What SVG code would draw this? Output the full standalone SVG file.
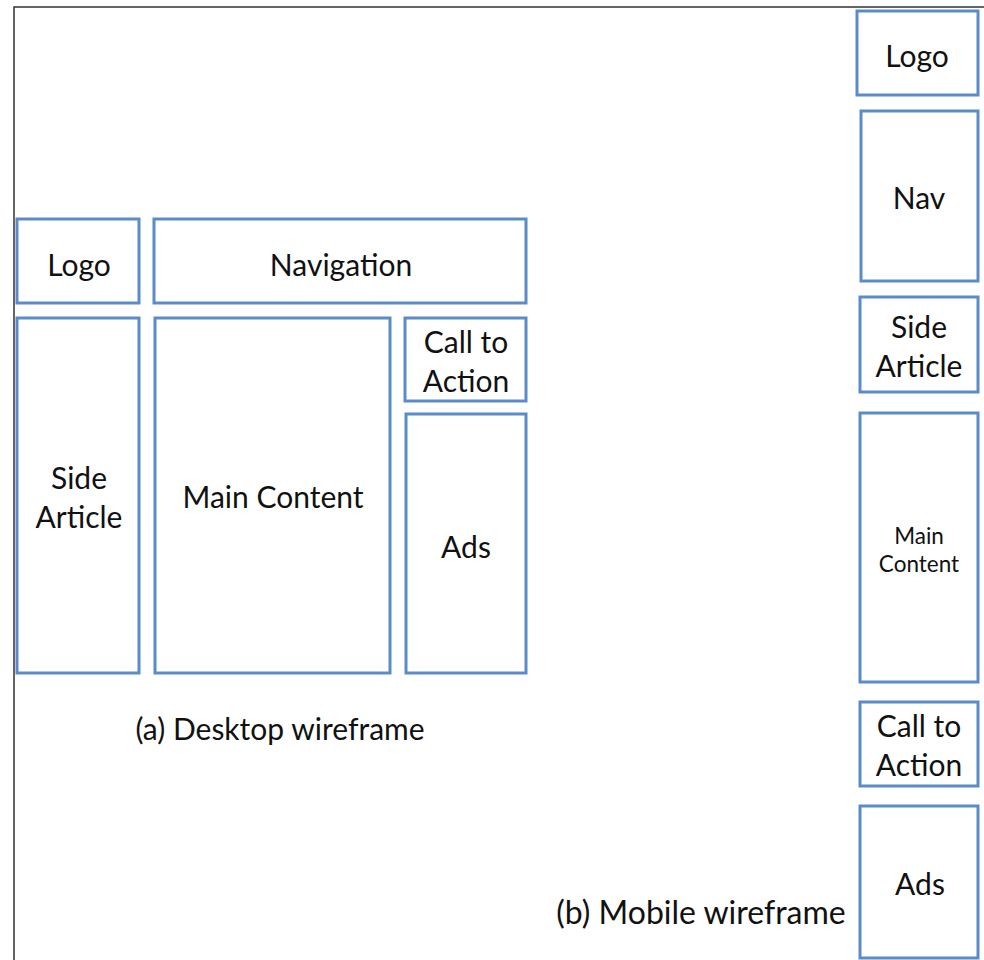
<svg xmlns="http://www.w3.org/2000/svg" width="984" height="960" viewBox="0 0 984 960">
<style>
.box{fill:#fff;stroke:#5b8cc8;stroke-width:3}
.t{font-family:Lato,"Open Sans","Liberation Sans",sans-serif;font-size:30px;fill:#111;text-anchor:middle}
.s{font-size:22.5px}
.b{font-size:32px}
.frame{stroke:#333;stroke-width:1.5;fill:none}
</style>
<rect width="984" height="960" fill="#fff"/>
<g id="frame"><path class="frame" d="M14,960 V7 H984"/></g>
<g id="desktop">
<g id="d-logo"><rect class="box" x="17" y="219" width="122" height="84"/><text class="t" x="79" y="276">Logo</text></g>
<g id="d-nav"><rect class="box" x="154" y="219" width="372" height="84"/><text class="t" x="341" y="276">Navigation</text></g>
<g id="d-side"><rect class="box" x="17" y="318" width="122" height="355"/><text class="t" x="79" y="489">Side</text><text class="t" x="79" y="528">Article</text></g>
<g id="d-main"><rect class="box" x="155" y="318" width="235" height="355"/><text class="t" x="273" y="508">Main Content</text></g>
<g id="d-cta"><rect class="box" x="405" y="318" width="121" height="83"/><text class="t" x="466" y="353">Call to</text><text class="t" x="466" y="392">Action</text></g>
<g id="d-ads"><rect class="box" x="406" y="414" width="120" height="259"/><text class="t" x="466" y="558">Ads</text></g>
<text class="t" x="280" y="740">(a) Desktop wireframe</text>
</g>
<g id="mobile">
<g id="m-logo"><rect class="box" x="857" y="11" width="121" height="84"/><text class="t" x="917" y="67">Logo</text></g>
<g id="m-nav"><rect class="box" x="861" y="111" width="117" height="170"/><text class="t" x="919" y="209">Nav</text></g>
<g id="m-side"><rect class="box" x="860" y="297" width="118" height="95"/><text class="t" x="919" y="338">Side</text><text class="t" x="919" y="377">Article</text></g>
<g id="m-main"><rect class="box" x="860" y="413" width="118" height="269"/><text class="t s" x="919" y="544">Main</text><text class="t s" x="919" y="572">Content</text></g>
<g id="m-cta"><rect class="box" x="860" y="702" width="118" height="84"/><text class="t" x="919" y="737">Call to</text><text class="t" x="919" y="776">Action</text></g>
<g id="m-ads"><rect class="box" x="860" y="806" width="118" height="152"/><text class="t" x="920" y="895">Ads</text></g>
<text class="t b" x="701" y="924">(b) Mobile wireframe</text>
</g>
<g id="connectors"/>
</svg>
